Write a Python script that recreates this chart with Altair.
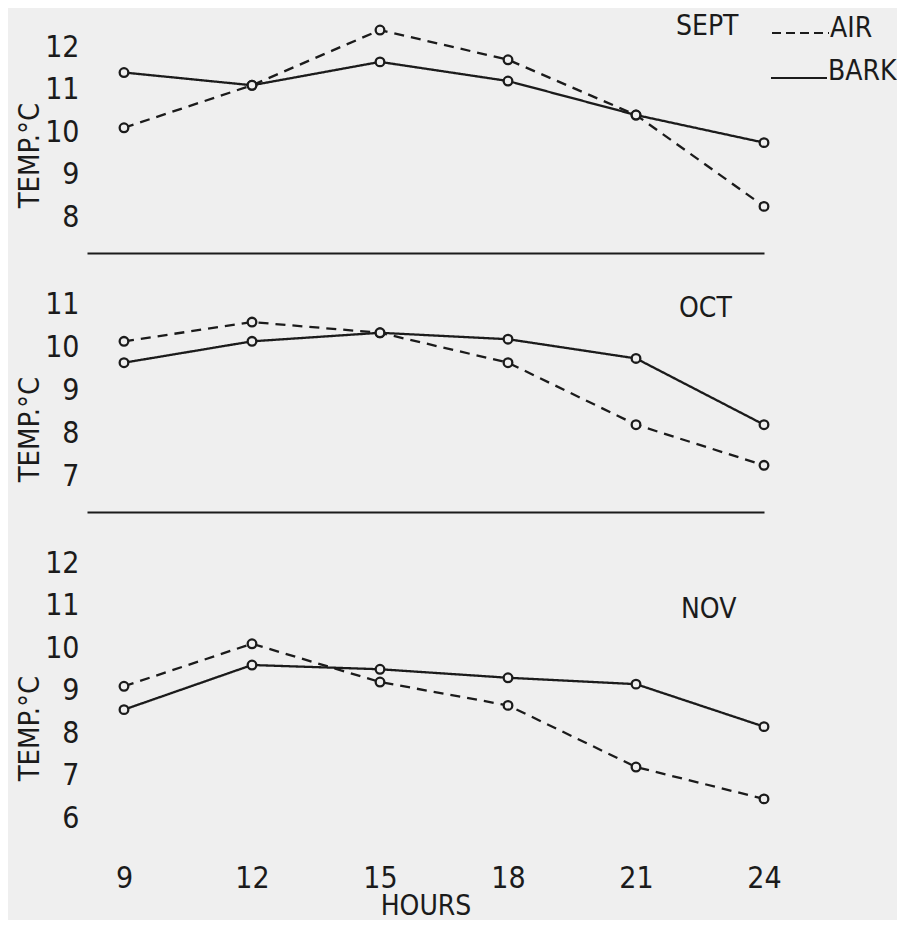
import altair as alt
import pandas as pd

# ---- data ----
hours = [9, 12, 15, 18, 21, 24]
series_names = ["AIR", "BARK"]
months = ["SEPT", "OCT", "NOV"]

sept_air = [10.1, 11.1, 12.4, 11.7, 10.4, 8.25]
sept_bark = [11.4, 11.1, 11.65, 11.2, 10.4, 9.75]
oct_air = [10.15, 10.6, 10.35, 9.65, 8.2, 7.25]
oct_bark = [9.65, 10.15, 10.35, 10.2, 9.75, 8.2]
nov_air = [9.1, 10.1, 9.2, 8.65, 7.2, 6.45]
nov_bark = [8.55, 9.6, 9.5, 9.3, 9.15, 8.15]

sept_ticks = [8, 9, 10, 11, 12]
oct_ticks = [7, 8, 9, 10, 11]
nov_ticks = [6, 7, 8, 9, 10, 11, 12]
x_ticks = [9, 12, 15, 18, 21, 24]

# ---- styling ----
BG = "#efefef"
INK = "#1b1b1b"
FONT = "Liberation Sans Narrow, DejaVu Sans Condensed, Liberation Sans, sans-serif"
PLOT_W = 677
X_DOMAIN = [8.133, 24]


def panel(month, air, bark, ydom, yticks, height, title_y, month_pos,
          bottom=False, legend=False):
    df = pd.DataFrame({
        "hour": hours * 2,
        "temp": air + bark,
        "series": [series_names[0]] * len(hours) + [series_names[1]] * len(hours),
    })
    xscale = alt.Scale(domain=X_DOMAIN, nice=False, zero=False)
    yscale = alt.Scale(domain=ydom, nice=False, zero=False)
    if bottom:
        xaxis = alt.Axis(values=x_ticks, domain=False, ticks=False, tickSize=0,
                         labelPadding=20, labelBaseline="middle", labelFontSize=30,
                         labelFlush=False, labelOverlap=False,
                         title="HOURS", titleY=48, titleBaseline="middle",
                         titleFontSize=28)
    else:
        xaxis = alt.Axis(labels=False, ticks=False, tickSize=0, title=None,
                         domain=True, domainColor=INK, domainWidth=2, minExtent=0)
    yaxis = alt.Axis(values=yticks, domain=False, ticks=False, tickSize=0,
                     labelPadding=8, labelFontSize=30, labelFlush=False,
                     labelOverlap=False, labelBaseline="middle",
                     title="TEMP.°C", titleX=-58, titleY=title_y, titleAngle=270,
                     titleBaseline="middle", titleAlign="center", titleFontSize=29)
    base = alt.Chart(df).encode(
        x=alt.X("hour:Q", scale=xscale, axis=xaxis),
        y=alt.Y("temp:Q", scale=yscale, axis=yaxis),
    )
    lines = base.mark_line(color=INK, strokeWidth=2.3).encode(
        strokeDash=alt.StrokeDash(
            "series:N",
            scale=alt.Scale(domain=series_names, range=[[10, 7], [1, 0]]),
            legend=None,
        ),
        detail="series:N",
    )
    pts = base.mark_point(shape="circle", filled=True, fill=BG, stroke=INK,
                          strokeWidth=2.3, size=75, opacity=1).encode(detail="series:N")
    mtext = alt.Chart().mark_text(
        align="left", baseline="alphabetic", fontSize=28, font=FONT, color=INK
    ).encode(x=alt.value(month_pos[0]), y=alt.value(month_pos[1]),
             text=alt.value(month))
    layers = [lines, pts, mtext]
    if legend:
        air_rule = alt.Chart().mark_rule(color=INK, strokeWidth=2, strokeDash=[9, 5]).encode(
            x=alt.value(685), x2=alt.value(742), y=alt.value(25))
        bark_rule = alt.Chart().mark_rule(color=INK, strokeWidth=2).encode(
            x=alt.value(684), x2=alt.value(740), y=alt.value(70))
        air_txt = alt.Chart().mark_text(
            align="left", baseline="alphabetic", fontSize=28, font=FONT, color=INK
        ).encode(x=alt.value(743), y=alt.value(29), text=alt.value(series_names[0]))
        bark_txt = alt.Chart().mark_text(
            align="left", baseline="alphabetic", fontSize=28, font=FONT, color=INK
        ).encode(x=alt.value(741), y=alt.value(72), text=alt.value(series_names[1]))
        layers += [air_rule, bark_rule, air_txt, bark_txt]
    return alt.layer(*layers).properties(width=PLOT_W, height=height)


sept = panel(months[0], sept_air, sept_bark, [7.153, 12.918], sept_ticks, 245,
             147, (589, 27), legend=True)
octp = panel(months[1], oct_air, oct_bark, [6.158, 12.216], oct_ticks, 259,
             176, (592, 64))
nov = panel(months[2], nov_air, nov_bark, [5.059, 13.2], nov_ticks, 346,
            216, (594, 106), bottom=True)

chart = alt.vconcat(sept, octp, nov, spacing=0).properties(
    padding={"left": 7, "top": 0, "right": 0, "bottom": 0},
    background=BG,
).configure_view(stroke=None).configure_axis(
    grid=False, labelFont=FONT, titleFont=FONT, labelColor=INK, titleColor=INK,
    titleFontWeight="normal", labelFontWeight="normal",
)

chart.save("out.html", embed_options={"renderer": "svg", "actions": False})
